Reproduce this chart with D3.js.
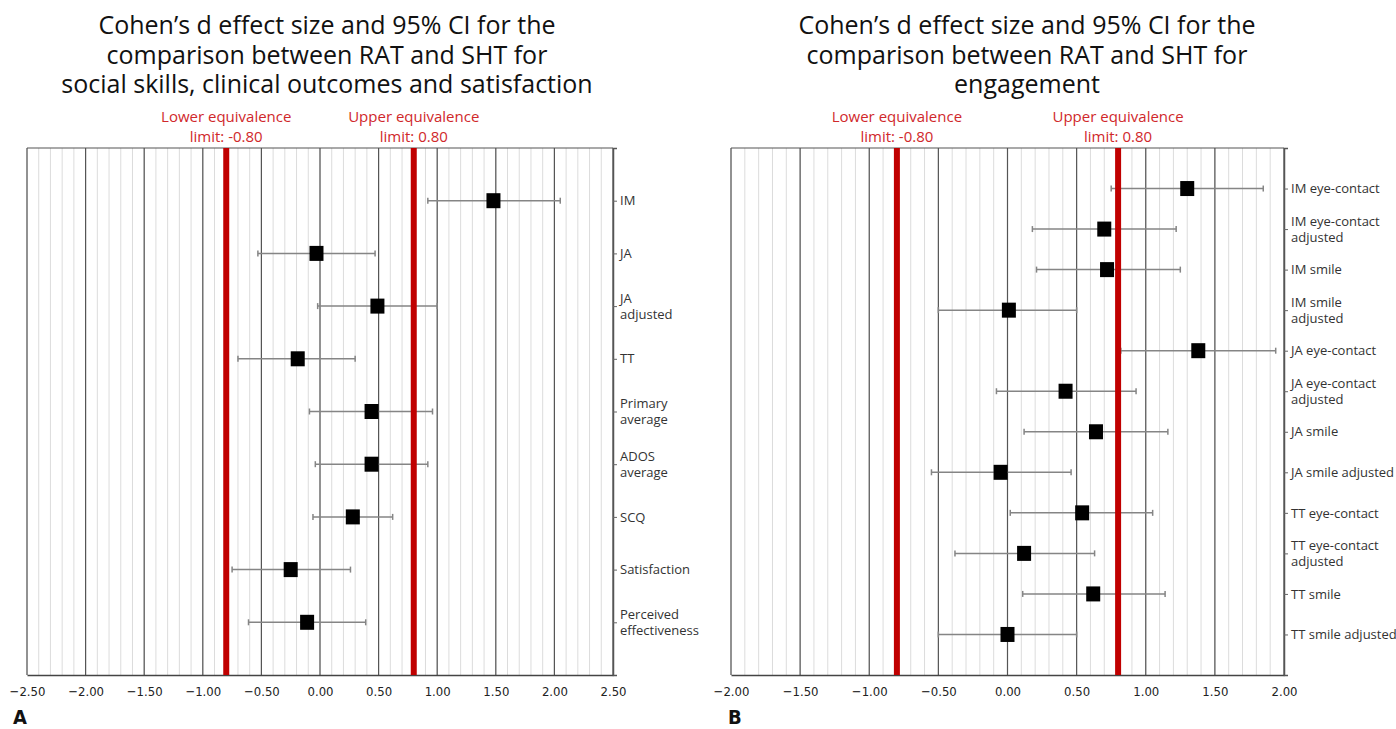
<!DOCTYPE html>
<html>
<head>
<meta charset="utf-8">
<script src="https://cdn.jsdelivr.net/npm/d3@7"></script>
<style>
  body { margin: 0; background: #fff; }
  .title { font-family: "Open Sans", sans-serif; font-size: 25px; font-weight: 500; fill: #111; }
  .limit-label { font-family: "Open Sans", sans-serif; font-size: 15px; fill: #d0282b; }
  .cat-axis text { font-family: "Open Sans", sans-serif; font-size: 13px; fill: #333; }
  .x-axis text { font-family: "Liberation Sans Narrow", "Arial Narrow", "DejaVu Sans Condensed", sans-serif; font-size: 13px; fill: #222; }
  .panel-tag { font-family: "Liberation Sans Narrow", "Arial Narrow", "DejaVu Sans Condensed", sans-serif; font-weight: bold; font-size: 20px; fill: #111; }
</style>
</head>
<body>
<svg id="chart" width="1396" height="729"></svg>
<script>
// panel A: social skills, clinical outcomes and satisfaction
const categoriesA = ["IM", "JA", "JA\nadjusted", "TT", "Primary\naverage", "ADOS\naverage",
  "SCQ", "Satisfaction", "Perceived\neffectiveness"]
const effectA = [1.48, -0.03, 0.49, -0.19, 0.44, 0.44, 0.28, -0.25, -0.11]
const lowerA  = [0.92, -0.53, -0.02, -0.70, -0.09, -0.04, -0.06, -0.75, -0.61]
const upperA  = [2.05, 0.47, 1.00, 0.30, 0.96, 0.92, 0.62, 0.26, 0.39]
const titleA = ["Cohen\u2019s d effect size and 95% CI for the", "comparison between RAT and SHT for",
  "social skills, clinical outcomes and satisfaction"]

// panel B: engagement
const categoriesB = ["IM eye-contact", "IM eye-contact\nadjusted", "IM smile", "IM smile\nadjusted",
  "JA eye-contact", "JA eye-contact\nadjusted", "JA smile", "JA smile adjusted", "TT eye-contact",
  "TT eye-contact\nadjusted", "TT smile", "TT smile adjusted"]
const effectB = [1.30, 0.70, 0.72, 0.01, 1.38, 0.42, 0.64, -0.05, 0.54, 0.12, 0.62, 0.00]
const lowerB  = [0.75, 0.18, 0.21, -0.50, 0.82, -0.08, 0.12, -0.55, 0.02, -0.38, 0.11, -0.50]
const upperB  = [1.85, 1.22, 1.25, 0.50, 1.94, 0.93, 1.16, 0.46, 1.05, 0.63, 1.14, 0.50]
const titleB = ["Cohen\u2019s d effect size and 95% CI for the", "comparison between RAT and SHT for",
  "engagement"]

const limits = [-0.8, 0.8]
const limitLabels = [["Lower equivalence", "limit: -0.80"], ["Upper equivalence", "limit: 0.80"]]

const svg = d3.select("#chart")
const plotTop = 148, plotBottom = 675

function drawPanel(p) {
  const g = svg.append("g")

  const x = d3.scaleLinear().domain(p.domain).range([p.left, p.right])
  const y = d3.scalePoint().domain(p.categories).range([plotTop, plotBottom]).padding(1)

  // light grid every 0.1
  g.append("g").selectAll("line")
    .data(x.ticks(p.minorCount))
    .join("line")
    .attr("x1", d => x(d)).attr("x2", d => x(d))
    .attr("y1", plotTop).attr("y2", plotBottom)
    .attr("stroke", "#dcdcdc").attr("stroke-width", 1)

  // major grid every 0.5
  g.append("g").selectAll("line")
    .data(x.ticks(p.majorCount))
    .join("line")
    .attr("x1", d => x(d)).attr("x2", d => x(d))
    .attr("y1", plotTop).attr("y2", plotBottom)
    .attr("stroke", "#555").attr("stroke-width", 1.2)

  // frame top
  g.append("line")
    .attr("x1", p.left).attr("x2", p.right).attr("y1", plotTop).attr("y2", plotTop)
    .attr("stroke", "#555").attr("stroke-width", 1.2)

  // bottom axis
  const xAxis = g.append("g")
    .attr("class", "x-axis")
    .attr("transform", "translate(0," + plotBottom + ")")
    .call(d3.axisBottom(x).ticks(p.majorCount).tickFormat(d3.format(".2f")).tickSize(0).tickPadding(12))
  xAxis.select(".domain").attr("stroke", "#444").attr("stroke-width", 1.5)

  // right category axis
  const cAxis = g.append("g")
    .attr("class", "cat-axis")
    .attr("transform", "translate(" + p.right + ",0)")
    .call(d3.axisRight(y).tickSize(4).tickPadding(3).tickSizeOuter(4))
  cAxis.select(".domain").attr("stroke", "#555").attr("stroke-width", 1.5)
  cAxis.selectAll(".tick line").attr("stroke", "#666")
  cAxis.selectAll(".tick text").each(function(d) {
    const lines = d.split("\n")
    const t = d3.select(this).text(null)
    lines.forEach((s, i) => {
      t.append("tspan")
        .attr("x", 7)
        .attr("dy", i === 0 ? (-(lines.length - 1) * 0.6 + 0.32) + "em" : "1.2em")
        .text(s)
    })
  })

  const rows = p.categories.map((c, i) => ({ c, d: p.effect[i], lo: p.lower[i], hi: p.upper[i] }))

  // confidence intervals
  const ci = g.append("g").attr("stroke", "#858585").attr("stroke-width", 1.5)
  ci.selectAll(".ci").data(rows).join("line")
    .attr("x1", r => x(r.lo)).attr("x2", r => x(r.hi))
    .attr("y1", r => y(r.c)).attr("y2", r => y(r.c))
  ci.selectAll(".cap-lo").data(rows).join("line")
    .attr("x1", r => x(r.lo)).attr("x2", r => x(r.lo))
    .attr("y1", r => y(r.c) - 3).attr("y2", r => y(r.c) + 3)
  ci.selectAll(".cap-hi").data(rows).join("line")
    .attr("x1", r => x(r.hi)).attr("x2", r => x(r.hi))
    .attr("y1", r => y(r.c) - 3).attr("y2", r => y(r.c) + 3)

  // equivalence limits
  g.append("g").selectAll("line")
    .data(limits)
    .join("line")
    .attr("x1", d => x(d)).attr("x2", d => x(d))
    .attr("y1", plotTop).attr("y2", plotBottom)
    .attr("stroke", "#c00000").attr("stroke-width", 6)

  limits.forEach((d, i) => {
    limitLabels[i].forEach((s, j) => {
      g.append("text").attr("class", "limit-label").attr("text-anchor", "middle")
        .attr("x", x(d)).attr("y", 122 + j * 19.5).text(s)
    })
  })

  // effect sizes
  g.append("g").selectAll("rect")
    .data(rows)
    .join("rect")
    .attr("x", r => x(r.d) - 7)
    .attr("y", r => y(r.c) - 7.5)
    .attr("width", 14).attr("height", 15)
    .attr("fill", "#000")

  // title
  const title = g.append("text").attr("class", "title").attr("text-anchor", "middle")
  p.title.forEach((s, i) => {
    title.append("tspan").attr("x", p.titleX).attr("y", 34 + i * 29.5).text(s)
  })

  g.append("text").attr("class", "panel-tag")
    .attr("x", p.tagX).attr("y", 724)
    .text(p.tag)
}

drawPanel({
  categories: categoriesA, effect: effectA, lower: lowerA, upper: upperA, title: titleA,
  domain: [-2.5, 2.5], left: 27, right: 613, majorCount: 10, minorCount: 50,
  titleX: 327, tag: "A", tagX: 13
})

drawPanel({
  categories: categoriesB, effect: effectB, lower: lowerB, upper: upperB, title: titleB,
  domain: [-2, 2], left: 731, right: 1284, majorCount: 8, minorCount: 40,
  titleX: 1027, tag: "B", tagX: 728
})
</script>
</body>
</html>
